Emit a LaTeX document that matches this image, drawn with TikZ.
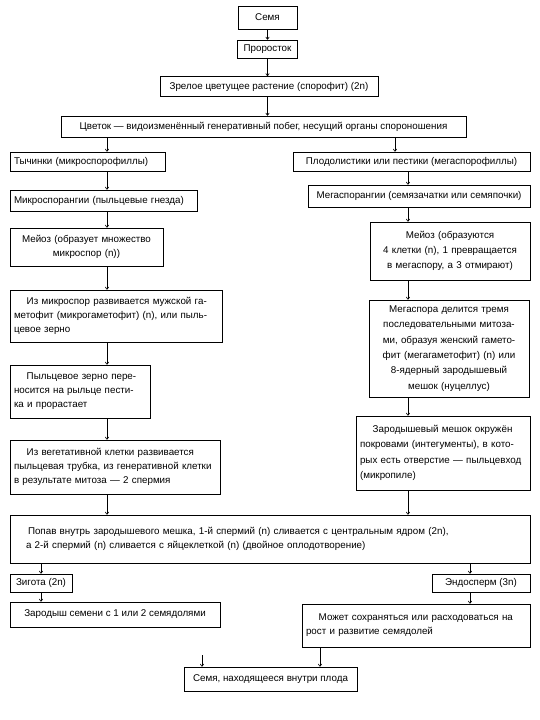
\documentclass[tikz,border=0pt]{standalone}
\usepackage{fontspec}
\setmainfont{Liberation Sans}
\usetikzlibrary{arrows.meta}
\tikzset{
  box/.style={draw, line width=0.6pt, inner xsep=4pt, inner ysep=1pt, font=\fontsize{9.8}{14}\selectfont},
  tall/.style={font=\fontsize{9.8}{15.3}\selectfont},
  arr/.style={draw, line width=0.6pt, -{To[length=3pt,width=4pt]}},
}
\newcommand{\jl}[1]{\makebox[\linewidth][s]{#1}}
\newcommand{\ind}{\hspace*{1.3em}}
\begin{document}
\begin{tikzpicture}[x=1pt,y=-1pt]
\useasboundingbox (0,0) rectangle (540,720);
\fill[white] (0,0) rectangle (540,720);

% top chain
\node[box, minimum width=59, minimum height=23] (seed) at (267.5,17.5) {Семя};
\node[box, minimum width=60, minimum height=18] (sprout) at (267.5,49) {Проросток};
\node[box, minimum width=218, minimum height=20] (plant) at (269,86.5) {Зрелое цветущее растение (спорофит) (2n)};
\node[box, minimum width=405, minimum height=21] (flower) at (263.5,126.5) {Цветок — видоизменённый генеративный побег, несущий органы спороношения};

% left column
\node[box, minimum width=155, minimum height=19, text width=147, align=left] (stam) at (87.5,161.5) {Тычинки (микроспорофиллы)};
\node[box, minimum width=187, minimum height=21, text width=179, align=left] (msp) at (103.5,200.5) {Микроспорангии (пыльцевые гнезда)};
\node[box, minimum width=153, minimum height=38, text width=145, align=center] (meiL) at (86.5,247) {Мейоз (образует множество\\микроспор (n))};
\node[box, minimum width=212, minimum height=52, text width=204, align=left] (mgam) at (116,316) {\jl{\ind Из микроспор развивается мужской га-}\\\jl{метофит (микрогаметофит) (n), или пыль-}\\цевое зерно};
\node[box, minimum width=140, minimum height=53, text width=132, align=left] (pollen) at (80,391.5) {\jl{\ind Пыльцевое зерно пере-}\\\jl{носится на рыльце пести-}\\ка и прорастает};
\node[box, minimum width=210, minimum height=54, text width=202, align=left] (tube) at (115,467) {\jl{\ind Из вегетативной клетки развивается}\\\jl{пыльцевая трубка, из генеративной клетки}\\в результате митоза — 2 спермия};

% right column
\node[box, minimum width=237, minimum height=19] (pist) at (411.5,161.5) {Плодолистики или пестики (мегаспорофиллы)};
\node[box, minimum width=222, minimum height=22] (megsp) at (419,196) {Мегаспорангии (семязачатки или семяпочки)};
\node[box, tall, minimum width=160, minimum height=58, text width=152, align=center] (meiR) at (450,251) {Мейоз (образуются\\4 клетки (n), 1 превращается\\в мегаспору, а 3 отмирают)};
\node[box, tall, minimum width=160, minimum height=97, text width=152, align=center] (mega) at (449,348.5) {Мегаспора делится тремя\\последовательными митоза-\\ми, образуя женский гамето-\\фит (мегагаметофит) (n) или\\8-ядерный зародышевый\\мешок (нуцеллус)};
\node[box, tall, minimum width=174, minimum height=74, text width=166, align=left] (sac) at (443,453) {\jl{\ind Зародышевый мешок окружён}\\\jl{покровами (интегументы), в кото-}\\\jl{рых есть отверстие — пыльцевход}\\(микропиле)};

% fertilization
\node[box, minimum width=520, minimum height=48, text width=512, align=left] (fert) at (270,539) {\hspace*{14pt}Попав внутрь зародышевого мешка, 1-й спермий (n) сливается с центральным ядром (2n),\\\hspace*{12pt}а 2-й спермий (n) сливается с яйцеклеткой (n) (двойное оплодотворение)};

% bottom
\node[box, minimum width=62, minimum height=18] (zyg) at (41,583) {Зигота (2n)};
\node[box, minimum width=210, minimum height=25] (emb) at (115,614.5) {Зародыш семени с 1 или 2 семядолями};
\node[box, minimum width=98, minimum height=18] (endo) at (481,583) {Эндосперм (3n)};
\node[box, minimum width=228, minimum height=43, text width=220, align=left] (may) at (416,625.5) {\jl{\ind Может сохраняться или расходоваться на}\\рост и развитие семядолей};
\node[box, minimum width=173, minimum height=24] (final) at (270.5,679) {Семя, находящееся внутри плода};

% connector columns
\coordinate (cL) at (107,0);
\coordinate (cR) at (408,0);
\coordinate (cP) at (395,0);
\coordinate (cZ) at (41,0);
\coordinate (cE) at (470,0);
\coordinate (cF) at (320,0);
\coordinate (fs) at (202,655);

\draw[arr] (seed.south) -- (sprout.north -| seed.south);
\draw[arr] (sprout.south) -- (plant.north -| sprout.south);
\draw[arr] (plant.south -| sprout.south) -- (flower.north -| sprout.south);
\draw[arr] (flower.south -| cL) -- (stam.north -| cL);
\draw[arr] (flower.south -| cP) -- (pist.north -| cP);
\draw[arr] (stam.south -| cL) -- (msp.north -| cL);
\draw[arr] (msp.south -| cL) -- (meiL.north -| cL);
\draw[arr] (meiL.south -| cL) -- (mgam.north -| cL);
\draw[arr] (mgam.south -| cL) -- (pollen.north -| cL);
\draw[arr] (pollen.south -| cL) -- (tube.north -| cL);
\draw[arr] (tube.south -| cL) -- (fert.north -| cL);
\draw[arr] (pist.south -| cR) -- (megsp.north -| cR);
\draw[arr] (megsp.south -| cR) -- (meiR.north -| cR);
\draw[arr] (meiR.south -| cR) -- (mega.north -| cR);
\draw[arr] (mega.south -| cR) -- (sac.north -| cR);
\draw[arr] (sac.south -| cR) -- (fert.north -| cR);
\draw[arr] (fert.south -| cZ) -- (zyg.north -| cZ);
\draw[arr] (zyg.south -| cZ) -- (emb.north -| cZ);
\draw[arr] (fert.south -| cE) -- (endo.north -| cE);
\draw[arr] (endo.south -| cE) -- (may.north -| cE);
\draw[arr] (may.south -| cF) -- (final.north -| cF);
\draw[arr] (fs) -- (final.north -| fs);
\end{tikzpicture}
\end{document}
